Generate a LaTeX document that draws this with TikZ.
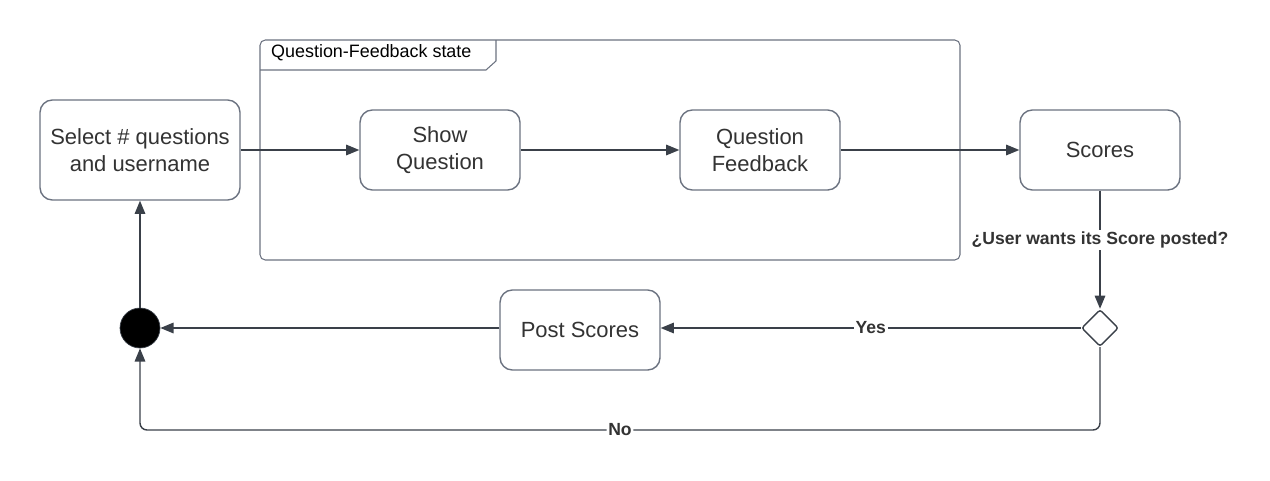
\documentclass[tikz,border=0pt]{standalone}
\usepackage{fontspec}
\setmainfont{Liberation Sans}
\usetikzlibrary{arrows.meta, shapes.geometric}
\definecolor{edgegray}{HTML}{6B7280}
\definecolor{linedark}{HTML}{3A4049}
\definecolor{textdark}{HTML}{333333}

\begin{document}
\begin{tikzpicture}[x=0.02cm, y=-0.02cm,
    state/.style={draw=edgegray, line width=0.8pt, rounded corners=7pt, fill=white,
      minimum width=3.2cm, minimum height=1.6cm, align=center,
      font=\fontsize{12.5}{15.3}\selectfont, text=textdark},
    flow/.style={draw=linedark, line width=0.8pt, -{Triangle[length=7.5pt, width=6pt]}},
    guard/.style={fill=white, inner sep=1pt, text=textdark,
      font=\fontsize{10}{12}\selectfont\bfseries}]
  \useasboundingbox (0, 0) rectangle (1270, 480);

  % Question-Feedback frame
  \draw[edgegray, line width=0.6pt, rounded corners=3pt] (260, 40) rectangle (960, 260);
  \draw[edgegray, line width=0.6pt] (260, 70) -- (486, 70) -- (496, 61) -- (496, 40);
  \node[anchor=west, text=black, font=\fontsize{10.2}{12}\selectfont] (frametitle) at (265, 53) {Question-Feedback state};

  % States
  \node[state, minimum width=4cm, minimum height=2cm] (select) at (140, 150) {Select \# questions\\and username};
  \node[state] (showq) at (440, 150) {Show\\Question};
  \node[state] (feedback) at (760, 150) {Question\\Feedback};
  \node[state] (scores) at (1100, 150) {Scores};
  \node[state] (post) at (580, 330) {Post Scores};

  % Decision and join
  \node[diamond, draw=linedark, line width=0.8pt, fill=white, aspect=1, inner sep=0pt,
    minimum width=0.74cm, minimum height=0.74cm, rounded corners=1.5pt] (decide) at (1100, 328) {};
  \node[circle, fill=black, draw=linedark, inner sep=0pt, minimum size=0.8cm] (join) at (140, 328) {};
  \coordinate (nobend) at (140, 430);

  % Transitions
  \draw[flow] (select.east |- 0, 150) -- (showq.west |- 0, 150);
  \draw[flow] (showq) -- (feedback);
  \draw[flow] (feedback) -- (scores);
  \draw[flow] (scores.south) -- node[guard, pos=0.42] {¿User wants its Score posted?} (decide.north);
  \draw[flow] (decide.west) -- node[guard] {Yes} (post.east |- decide.west);
  \draw[flow] (post.west |- join.east) -- (join.east);
  \draw[flow, rounded corners=4pt] (decide.south) |- node[guard, pos=0.75] {No} (nobend) -- (join.south);
  \draw[flow] (join.north) -- (select.south);
\end{tikzpicture}
\end{document}
